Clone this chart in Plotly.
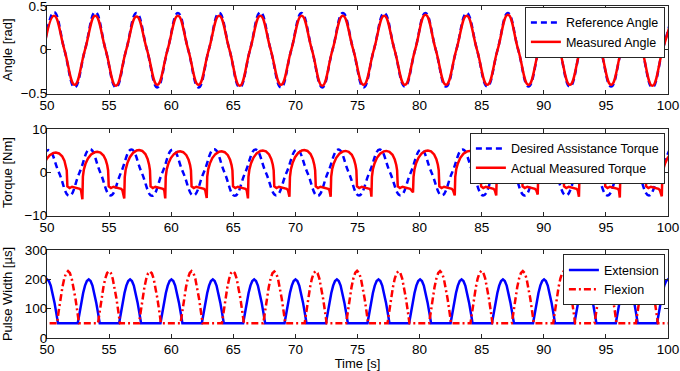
import plotly.graph_objects as go

FONT = "Liberation Sans, Arial, Helvetica, sans-serif"
BLUE = "#0000FF"
RED = "#FF0000"
FRAME = "#262626"

# ---------------- tick labels ----------------
x_ticks = [50, 55, 60, 65, 70, 75, 80, 85, 90, 95, 100]
angle_ticks = [-0.5, 0, 0.5]
angle_tick_text = ["\u22120.5", "0", "0.5"]
torque_ticks = [-10, 0, 10]
torque_tick_text = ["\u221210", "0", "10"]
pulse_ticks = [0, 100, 200, 300]
pulse_tick_text = ["0", "100", "200", "300"]

# ---------------- angle panel (zero crossings / extrema) ----------------
angle_t = [
    49.74, 50.57, 51.40, 52.23,
    53.06, 53.89, 54.72, 55.55,
    56.38, 57.21, 58.05, 58.88,
    59.71, 60.54, 61.37, 62.20,
    63.03, 63.86, 64.69, 65.52,
    66.35, 67.18, 68.01, 68.84,
    69.67, 70.50, 71.33, 72.16,
    72.99, 73.82, 74.66, 75.49,
    76.32, 77.15, 77.98, 78.81,
    79.64, 80.47, 81.30, 82.13,
    82.96, 83.79, 84.62, 85.45,
    86.28, 87.11, 87.94, 88.77,
    89.60, 90.43, 91.27, 92.10,
    92.93, 93.76, 94.59, 95.42,
    96.25, 97.08, 97.91, 98.74,
    99.57, 100.40,
]
angle_ref = [
    0.0, 0.43, 0.0, -0.43,
    0.0, 0.43, 0.0, -0.43,
    0.0, 0.42, 0.0, -0.43,
    0.0, 0.42, 0.0, -0.43,
    0.0, 0.42, 0.0, -0.43,
    0.0, 0.43, 0.0, -0.43,
    0.0, 0.42, 0.0, -0.43,
    0.0, 0.42, 0.0, -0.43,
    0.0, 0.42, 0.0, -0.42,
    0.0, 0.42, 0.0, -0.42,
    0.0, 0.42, 0.0, -0.42,
    0.0, 0.42, 0.0, -0.42,
    0.0, 0.42, 0.0, -0.42,
    0.0, 0.42, 0.0, -0.42,
    0.0, 0.42, 0.0, -0.43,
    0.0, 0.42,
]
angle_meas = [
    0.0, 0.39, 0.0, -0.40,
    0.0, 0.39, 0.0, -0.41,
    0.0, 0.38, 0.0, -0.40,
    0.0, 0.39, 0.0, -0.40,
    0.0, 0.39, 0.0, -0.41,
    0.0, 0.39, 0.0, -0.40,
    0.0, 0.39, 0.0, -0.41,
    0.0, 0.39, 0.0, -0.40,
    0.0, 0.39, 0.0, -0.40,
    0.0, 0.40, 0.0, -0.40,
    0.0, 0.39, 0.0, -0.40,
    0.0, 0.40, 0.0, -0.40,
    0.0, 0.39, 0.0, -0.40,
    0.0, 0.39, 0.0, -0.40,
    0.0, 0.39, 0.0, -0.41,
    0.0, 0.39,
]

# ---------------- torque panel ----------------
torque_des_t = [
    49.29, 50.12, 50.96, 51.79,
    52.62, 53.46, 54.29, 55.12,
    55.96, 56.79, 57.62, 58.46,
    59.29, 60.12, 60.96, 61.79,
    62.62, 63.46, 64.29, 65.12,
    65.96, 66.79, 67.62, 68.46,
    69.29, 70.12, 70.96, 71.79,
    72.62, 73.46, 74.29, 75.12,
    75.96, 76.79, 77.62, 78.46,
    79.29, 80.12, 80.96, 81.79,
    82.62, 83.46, 84.29, 85.12,
    85.96, 86.79, 87.62, 88.46,
    89.29, 90.12, 90.96, 91.79,
    92.62, 93.46, 94.29, 95.12,
    95.96, 96.79, 97.62, 98.46,
    99.29, 100.12,
]
torque_des = [
    0.0, 5.2, 0.0, -5.4,
    0.0, 5.4, 0.0, -5.3,
    0.0, 5.3, 0.0, -5.4,
    0.0, 5.3, 0.0, -5.3,
    0.0, 5.4, 0.0, -5.4,
    0.0, 5.3, 0.0, -5.3,
    0.0, 5.3, 0.0, -5.4,
    0.0, 5.3, 0.0, -5.3,
    0.0, 5.3, 0.0, -5.3,
    0.0, 5.3, 0.0, -5.3,
    0.0, 5.3, 0.0, -5.3,
    0.0, 5.3, 0.0, -5.3,
    0.0, 5.3, 0.0, -5.3,
    0.0, 5.3, 0.0, -5.3,
    0.0, 5.3, 0.0, -5.3,
    0.0, 5.2,
]

# measured torque: per-cycle features
torque_spikes = [49.52, 52.85, 56.22, 59.52, 62.86, 66.18, 69.52, 72.84,
                 76.12, 79.47, 82.83, 86.17, 89.51, 92.83, 96.12, 99.50]
torque_spike_depth = [-6.0, -6.2, -6.0, -6.0, -5.9, -6.0, -5.6, -5.6,
                      -5.6, -4.6, -5.3, -5.3, -5.1, -5.6, -5.8, -5.5]
torque_peaks = [4.6, 4.8, 5.2, 4.9, 4.9, 5.1, 5.2, 5.0,
                5.0, 5.1, 5.0, 5.0, 4.9, 4.9, 4.9, 4.8]
# shape of one measured-torque cycle after the spike (time offset, fraction of peak)
arch_dt = [0.04, 0.12, 0.25, 0.45, 0.70, 1.00, 1.20, 1.45, 1.70, 1.88, 2.00, 2.07]
arch_frac = [-0.20, 0.15, 0.42, 0.68, 0.87, 0.98, 1.00, 0.96, 0.82, 0.60, 0.35, 0.10]
plateau_dt = [2.12, 2.30, 2.50, 2.75, 2.98, 3.12, 3.22]
plateau_val = [-3.2, -3.6, -3.3, -3.5, -3.6, -3.8, -4.1]

torque_meas_t, torque_meas = [], []
for s, d, p in zip(torque_spikes, torque_spike_depth, torque_peaks):
    torque_meas_t.append(s)
    torque_meas.append(d)
    for dt, f in zip(arch_dt, arch_frac):
        torque_meas_t.append(s + dt)
        torque_meas.append(p * f)
    for dt, v in zip(plateau_dt, plateau_val):
        torque_meas_t.append(s + dt)
        torque_meas.append(v)

# ---------------- pulse width panel ----------------
pulse_base = 50
ext_peaks = [50.00, 53.36, 56.69, 60.02, 63.35, 66.68, 70.01, 73.34,
             76.69, 80.04, 83.38, 86.71, 90.02, 93.35, 96.68, 100.00]
ext_amp = [200, 200, 200, 200, 200, 200, 200, 200,
           200, 200, 200, 200, 200, 200, 200, 200]
flex_peaks = [51.69, 54.99, 58.29, 61.64, 64.97, 68.30, 71.63, 74.97,
              78.30, 81.65, 84.98, 88.31, 91.64, 94.97, 98.30]
flex_amp = [228, 228, 227, 228, 228, 227, 228, 229,
            228, 228, 229, 228, 229, 228, 228]
bump_dt = [-0.885, -0.75, -0.60, -0.45, -0.30, -0.15, 0.0,
           0.15, 0.30, 0.45, 0.60, 0.75, 0.885]
bump_frac = [0.0, 0.232, 0.476, 0.691, 0.858, 0.964, 1.0,
             0.964, 0.858, 0.691, 0.476, 0.232, 0.0]


def bumps(peaks, amps, start=None, end=None):
    xs, ys = [], []
    if start is not None:
        xs.append(start)
        ys.append(pulse_base)
    for c, a in zip(peaks, amps):
        for dt, f in zip(bump_dt, bump_frac):
            xs.append(c + dt)
            ys.append(pulse_base + (a - pulse_base) * f)
    if end is not None:
        xs.append(end)
        ys.append(pulse_base)
    return xs, ys


ext_t, ext_v = bumps(ext_peaks, ext_amp)
flex_t, flex_v = bumps(flex_peaks, flex_amp, start=49.0, end=101.0)

# ---------------- figure ----------------
LW = 2.5
fig = go.Figure()
fig.add_trace(go.Scatter(x=angle_t, y=angle_ref, name="Reference Angle", mode="lines",
                         line=dict(color=BLUE, width=LW, dash="6px,4px", shape="spline", smoothing=1.3),
                         xaxis="x", yaxis="y", legend="legend"))
fig.add_trace(go.Scatter(x=angle_t, y=angle_meas, name="Measured Angle", mode="lines",
                         line=dict(color=RED, width=LW, shape="spline", smoothing=1.3),
                         xaxis="x", yaxis="y", legend="legend"))
fig.add_trace(go.Scatter(x=torque_des_t, y=torque_des, name="Desired Assistance Torque", mode="lines",
                         line=dict(color=BLUE, width=LW, dash="6px,4px", shape="spline", smoothing=1.3),
                         xaxis="x2", yaxis="y2", legend="legend2"))
fig.add_trace(go.Scatter(x=torque_meas_t, y=torque_meas, name="Actual Measured Torque", mode="lines",
                         line=dict(color=RED, width=LW),
                         xaxis="x2", yaxis="y2", legend="legend2"))
fig.add_trace(go.Scatter(x=ext_t, y=ext_v, name="Extension", mode="lines",
                         line=dict(color=BLUE, width=LW),
                         xaxis="x3", yaxis="y3", legend="legend3"))
fig.add_trace(go.Scatter(x=flex_t, y=flex_v, name="Flexion", mode="lines",
                         line=dict(color=RED, width=LW, dash="7px,3px,2px,3px"),
                         xaxis="x3", yaxis="y3", legend="legend3"))

axis_common = dict(ticks="inside", ticklen=4, tickwidth=1, tickcolor=FRAME,
                   showline=True, linecolor=FRAME, linewidth=1, mirror="ticks",
                   showgrid=False, zeroline=False, automargin=False,
                   ticklabeloverflow="allow",
                   tickfont=dict(family=FONT, size=13.5, color="black"))

xcommon = dict(axis_common, range=[50, 100], tickvals=x_ticks,
               ticktext=[str(v) for v in x_ticks], ticklabelstandoff=-1)
ycommon = dict(axis_common, ticklabelstandoff=-4)

legend_common = dict(xanchor="right", yanchor="top", bgcolor="white",
                     bordercolor=FRAME, borderwidth=1, tracegroupgap=0,
                     font=dict(family=FONT, size=12.5, color="black"))

fig.update_layout(
    width=680, height=371,
    margin=dict(l=47, r=12, t=6, b=33),
    paper_bgcolor="white", plot_bgcolor="white",
    font=dict(family=FONT, size=13, color="black"),
    showlegend=True,
    xaxis=dict(xcommon, anchor="y", domain=[0, 1]),
    xaxis2=dict(xcommon, anchor="y2", domain=[0, 1]),
    xaxis3=dict(xcommon, anchor="y3", domain=[0, 1],
                title=dict(text="Time [s]", font=dict(family=FONT, size=13))),
    yaxis=dict(ycommon, anchor="x", domain=[0.7364, 1.0], range=[-0.5, 0.5],
               tickvals=angle_ticks, ticktext=angle_tick_text,
               title=dict(text="Angle [rad]", font=dict(family=FONT, size=13))),
    yaxis2=dict(ycommon, anchor="x2", domain=[0.3684, 0.6286], range=[-10, 10],
                tickvals=torque_ticks, ticktext=torque_tick_text,
                title=dict(text="Torque [Nm]", font=dict(family=FONT, size=13))),
    yaxis3=dict(ycommon, anchor="x3", domain=[0, 0.265], range=[0, 300],
                tickvals=pulse_ticks, ticktext=pulse_tick_text,
                title=dict(text="Pulse Width [\u00b5s]", font=dict(family=FONT, size=13))),
    legend=dict(legend_common, x=0.995, y=0.997),
    legend2=dict(legend_common, x=0.995, y=0.618),
    legend3=dict(legend_common, x=0.995, y=0.252),
)

# remove the default page margin so the figure sits at the window's top-left corner
fig.write_html("out.html", config={"displayModeBar": False},
               post_script="document.body.style.margin='0px';")
